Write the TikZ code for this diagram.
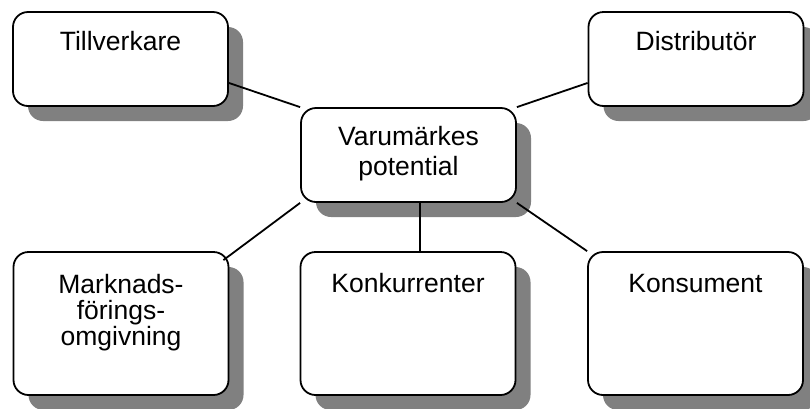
\documentclass[tikz,border=0pt]{standalone}
\usepackage{fontspec}
\setmainfont{Liberation Sans}
\usetikzlibrary{shadows,calc}
\definecolor{shadowgray}{HTML}{808080}
\tikzset{
  box/.style={draw=black, line width=1.8pt, fill=white, rounded corners=15pt,
    minimum width=215pt, inner sep=0pt,
    drop shadow={shadow xshift=15pt, shadow yshift=-15pt, fill=shadowgray, opacity=1}},
  topbox/.style={box, minimum height=94pt},
  lowbox/.style={box, minimum height=143pt},
  lbl/.style={anchor=base, inner sep=0pt, align=center,
    font=\fontsize{26.5}{30}\selectfont},
  link/.style={draw=black, line width=1.8pt}
}
\begin{document}
\begin{tikzpicture}[x=1pt, y=-1pt]
  \useasboundingbox (0,0) rectangle (810,408);

  % boxes
  \node[topbox] (T) at (120.5,59) {};
  \node[topbox] (D) at (696,59) {};
  \node[topbox] (C) at (408.5,155) {};
  \node[lowbox] (M) at (121,323.5) {};
  \node[lowbox] (K) at (408,323.5) {};
  \node[lowbox] (S) at (695.5,323.5) {};

  % labels (base anchor sits on the last line's baseline)
  \node[lbl] (Tl) at ($(T.north)+(0,39)$) {Tillverkare};
  \node[lbl] (Dl) at ($(D.north)+(0,39)$) {Distributör};
  \node[lbl] (Cl) at ($(C.north)+(0,68)$) {Varumärkes\\potential};
  \node[lbl, font=\fontsize{26.5}{26}\selectfont] (Ml) at ($(M.north)+(0,94)$) {Marknads-\\förings-\\omgivning};
  \node[lbl] (Kl) at ($(K.north)+(0,41)$) {Konkurrenter};
  \node[lbl] (Sl) at ($(S.north)+(0,41)$) {Konsument};

  % connectors
  \draw[link] ($(T.south east)!0.25!(T.north east)$) -- (C.north west);
  \draw[link] ($(D.south west)!0.25!(D.north west)$) -- (C.north east);
  \draw[link] (C.south west) -- ($(M.north east)+(-6,9)$);
  \draw[link] (C.south east) -- (S.north west);
  \coordinate (cs) at ($(C.south)+(11.5,0)$);
  \draw[link] (cs) -- (cs |- K.north);
\end{tikzpicture}
\end{document}
